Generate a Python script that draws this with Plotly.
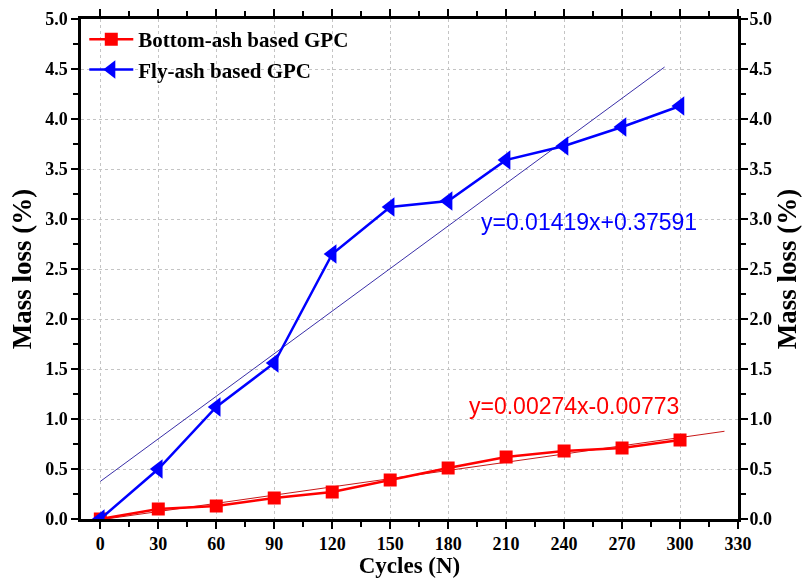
import plotly.graph_objects as go

# Freeze-thaw cycles and measured mass loss (%)
cycles = [0, 30, 60, 90, 120, 150, 180, 210, 240, 270, 300]
bottom_ash = [0.0, 0.10, 0.13, 0.21, 0.27, 0.39, 0.51, 0.62, 0.68, 0.71, 0.79]
fly_ash = [0.0, 0.50, 1.12, 1.56, 2.65, 3.12, 3.18, 3.59, 3.73, 3.92, 4.13]

# Linear fits (slope, intercept) and the x-span each fit line covers
fit_bottom = (0.00274, -0.00773)
fit_bottom_span = [0, 323]
fit_fly = (0.01419, 0.37591)
fit_fly_span = [0, 292]

x_ticks = list(range(0, 331, 30))
y_ticks = [i * 0.5 for i in range(11)]

SERIF = "Liberation Serif, Times New Roman, serif"
SANS = "Liberation Sans, Arial, sans-serif"

fig = go.Figure()

# Fit lines
fig.add_trace(go.Scatter(
    x=fit_bottom_span, y=[fit_bottom[0] * v + fit_bottom[1] for v in fit_bottom_span],
    mode="lines", line=dict(color="#c81818", width=1), showlegend=False, hoverinfo="skip"))
fig.add_trace(go.Scatter(
    x=fit_fly_span, y=[fit_fly[0] * v + fit_fly[1] for v in fit_fly_span],
    mode="lines", line=dict(color="#3a2fa8", width=1), showlegend=False, hoverinfo="skip"))

# Measured series
fig.add_trace(go.Scatter(
    x=cycles, y=bottom_ash, mode="lines+markers", name="Bottom-ash based GPC",
    line=dict(color="#ff0000", width=2.5),
    marker=dict(symbol="square", size=13, color="#ff0000")))
fig.add_trace(go.Scatter(
    x=cycles, y=fly_ash, mode="lines+markers", name="Fly-ash based GPC",
    line=dict(color="#0000ff", width=2.5),
    marker=dict(symbol="triangle-left", size=17, color="#0000ff")))

# Invisible trace that carries the right-hand axis
fig.add_trace(go.Scatter(
    x=cycles, y=fly_ash, yaxis="y2", mode="markers", opacity=0,
    showlegend=False, hoverinfo="skip"))

# Fit equations
fig.add_annotation(x=196, y=2.97, xanchor="left", yanchor="middle",
                   text="y=0.01419x+0.37591", showarrow=False,
                   font=dict(family=SANS, size=23, color="#0000ff"))
fig.add_annotation(x=189.5, y=1.13, xanchor="left", yanchor="middle",
                   text="y=0.00274x-0.00773", showarrow=False,
                   font=dict(family=SANS, size=23, color="#ff0000"))

tick_font = dict(family=SERIF, size=18, color="black", weight="bold")
ytitle_font = dict(family=SERIF, size=27, color="black", weight="bold")
xtitle_font = dict(family=SERIF, size=23, color="black", weight="bold")

grid = dict(showgrid=True, gridcolor="#c4c4c4", griddash="dot", gridwidth=1)
ticks = dict(ticks="outside", ticklen=7, tickwidth=2, tickcolor="black")

fig.update_layout(
    width=810, height=578,
    margin=dict(l=81, r=72, t=19, b=59),
    paper_bgcolor="white", plot_bgcolor="white",
    legend=dict(x=0.005, y=1.0, xanchor="left", yanchor="top",
                bgcolor="rgba(0,0,0,0)", tracegroupgap=0,
                font=dict(family=SERIF, size=21, color="black", weight="bold"),
                itemwidth=44),
    xaxis=dict(
        range=[-10, 330], tickvals=x_ticks, ticktext=[str(v) for v in x_ticks],
        showline=True, linecolor="black", linewidth=2.5, mirror="ticks",
        minor=dict(ticks="outside", ticklen=5, tickwidth=2, tickcolor="black",
                   dtick=15, tick0=0, showgrid=False),
        zeroline=False, tickfont=tick_font, automargin=False,
        title=dict(text="Cycles (N)", font=xtitle_font, standoff=5),
        **grid, **ticks,
    ),
    yaxis=dict(
        range=[0, 5], tickvals=y_ticks, ticktext=[f"{v:.1f}" for v in y_ticks],
        showline=True, linecolor="black", linewidth=2.5, mirror="ticks",
        minor=dict(ticks="outside", ticklen=5, tickwidth=2, tickcolor="black",
                   dtick=0.25, tick0=0, showgrid=False),
        zeroline=False, tickfont=tick_font, automargin=False,
        title=dict(text="Mass loss (%)", font=ytitle_font, standoff=6),
        **grid, **ticks,
    ),
    yaxis2=dict(
        range=[0, 5], overlaying="y", side="right",
        tickvals=y_ticks, ticktext=[f"{v:.1f}" for v in y_ticks],
        showline=False,
        minor=dict(ticks="outside", ticklen=5, tickwidth=2, tickcolor="black",
                   dtick=0.25, tick0=0, showgrid=False),
        showgrid=False, zeroline=False, tickfont=tick_font, automargin=False,
        title=dict(text="Mass loss (%)", font=ytitle_font, standoff=4),
        **ticks,
    ),
)

fig.write_html("out.html")
